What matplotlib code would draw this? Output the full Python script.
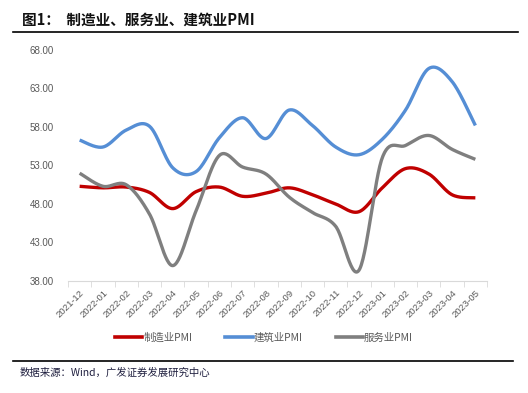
import numpy as np
import matplotlib.pyplot as plt
from matplotlib.lines import Line2D

plt.rcParams['font.family'] = ['Noto Sans CJK SC', 'DejaVu Sans']

months = ['2021-12', '2022-01', '2022-02', '2022-03', '2022-04', '2022-05',
          '2022-06', '2022-07', '2022-08', '2022-09', '2022-10', '2022-11',
          '2022-12', '2023-01', '2023-02', '2023-03', '2023-04', '2023-05']
manufacturing = [50.3, 50.1, 50.2, 49.5, 47.4, 49.6, 50.2, 49.0, 49.4,
                 50.1, 49.2, 48.0, 47.0, 50.1, 52.6, 51.9, 49.2, 48.8]
construction = [56.3, 55.4, 57.6, 58.1, 52.7, 52.2, 56.6, 59.2, 56.5,
                60.2, 58.2, 55.4, 54.4, 56.4, 60.2, 65.6, 63.9, 58.2]
services = [52.0, 50.3, 50.5, 46.7, 40.0, 47.1, 54.3, 52.8, 51.9,
            48.9, 46.9, 45.1, 39.4, 54.0, 55.6, 56.9, 55.1, 53.8]


def smooth(x, y, n=30):
    # excel-style smoothed line (catmull-rom bezier)
    x = np.asarray(x, float)
    y = np.asarray(y, float)
    px = np.concatenate([[x[0]], x, [x[-1]]])
    py = np.concatenate([[y[0]], y, [y[-1]]])
    t = np.linspace(0, 1, n)[:, None]
    xs, ys = [], []
    for i in range(len(x) - 1):
        p0 = np.array([px[i + 1], py[i + 1]])
        p3 = np.array([px[i + 2], py[i + 2]])
        c1 = p0 + (np.array([px[i + 2], py[i + 2]]) - np.array([px[i], py[i]])) / 6
        c2 = p3 - (np.array([px[i + 3], py[i + 3]]) - np.array([px[i + 1], py[i + 1]])) / 6
        pts = ((1 - t) ** 3) * p0 + 3 * ((1 - t) ** 2) * t * c1 + 3 * (1 - t) * t ** 2 * c2 + t ** 3 * p3
        xs.append(pts[:, 0])
        ys.append(pts[:, 1])
    return np.concatenate(xs), np.concatenate(ys)


fig = plt.figure(figsize=(5.28, 3.93), dpi=100)
ax = fig.add_axes([68 / 528, 1 - 281 / 393, (487 - 68) / 528, (281 - 50) / 393])

x = np.arange(len(months))
series = [(manufacturing, '#C00000', '制造业PMI'),
          (construction, '#558ED5', '建筑业PMI'),
          (services, '#7F7F7F', '服务业PMI')]
handles = []
for vals, col, name in series:
    sx, sy = smooth(x, vals)
    ax.plot(sx, sy, color=col, lw=2.4, solid_capstyle='butt')
    handles.append(Line2D([0], [0], color=col, lw=2.6, label=name))

ax.set_xlim(-0.5, len(months) - 0.5)
ax.set_ylim(38, 68)
ax.set_yticks(np.arange(38, 69, 5))
ax.set_yticklabels(['%.2f' % v for v in np.arange(38, 69, 5)],
                   fontsize=7, color='#595959', family='Liberation Sans')
ax.set_xticks(x)
ax.set_xticklabels(months, rotation=45, ha='right', va='top', rotation_mode='anchor',
                   fontsize=6.8, color='#595959', family='Liberation Sans')
ax.set_xticks(np.arange(-0.5, len(months)), minor=True)
ax.tick_params(axis='x', which='major', length=0, pad=5)
ax.tick_params(axis='x', which='minor', length=4, color='#D9D9D9')
ax.tick_params(axis='y', length=0, pad=10)
for s in ['top', 'right', 'left']:
    ax.spines[s].set_visible(False)
ax.spines['bottom'].set_color('#D9D9D9')

fig.legend(handles=handles, loc='center', bbox_to_anchor=(0.5, 1 - 338 / 393), ncol=3,
           frameon=False, fontsize=7.5, handlelength=2.6, handletextpad=0.1,
           columnspacing=3.2, labelcolor='#595959')

fig.text(22 / 528, 1 - 20 / 393, '图1：  制造业、服务业、建筑业PMI', fontsize=10.5,
         fontweight='bold', color='#111111', va='center')
fig.add_artist(Line2D([13 / 528, 518 / 528], [1 - 32 / 393] * 2, color='black', lw=1.2))
fig.add_artist(Line2D([13 / 528, 513 / 528], [1 - 361 / 393] * 2, color='black', lw=1.2))
fig.text(20 / 528, 1 - 373 / 393, '数据来源：Wind，广发证券发展研究中心', fontsize=7.5,
         color='#1F1F3F', va='center')

fig.savefig('out.png', dpi=100)
